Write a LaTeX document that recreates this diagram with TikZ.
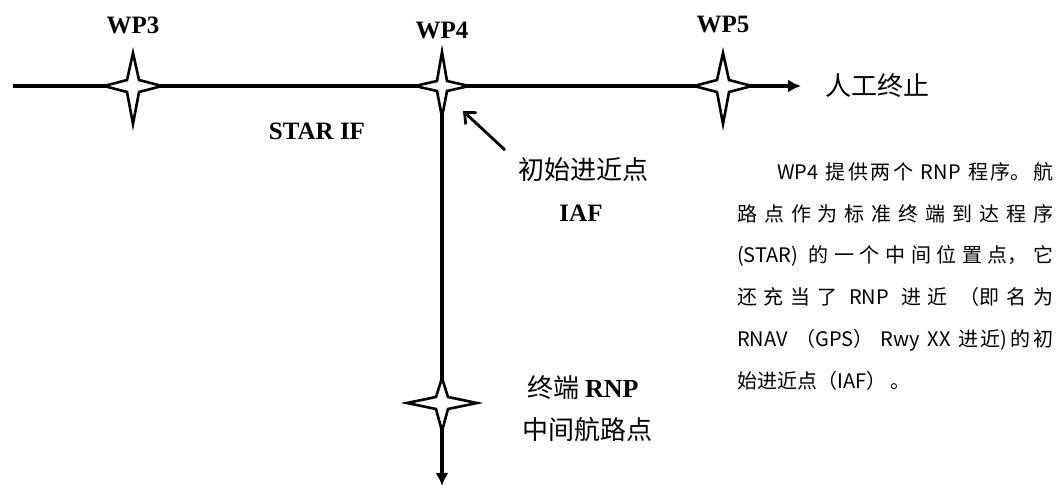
\documentclass[tikz,border=0pt]{standalone}
\usepackage{fontspec}
\setmainfont{Liberation Serif}
\newfontfamily\cjk{Noto Sans CJK SC}
\usetikzlibrary{arrows.meta}
\XeTeXlinebreaklocale "zh"
\XeTeXlinebreakskip=0pt plus 2pt
\tikzset{
  route/.style={
    % The line:
    line width=3.5pt,draw=black,
    % The tip:
    -{Latex[length=13pt,width=13pt]}
  }}
\tikzset{
  pointer/.style={line width=2.8pt,-{Straight Barb[length=9pt,width=16pt]}},
  wpname/.style={font=\fontsize{25}{25}\selectfont\bfseries},
  cjklabel/.style={font=\fontsize{26}{30}\selectfont\cjk},
  note/.style={anchor=north west,inner sep=0pt,text width=316pt,align=justify,
    font=\fontsize{20}{41.8}\selectfont\cjk},
  % a waypoint: half width / up / down / waist
  pics/wpstar/.style args={#1/#2/#3/#4}{code={
    \draw[line width=2.6pt,fill=white]
      (0,-#2) -- (#4,-#4) -- (#1,0) -- (#4,#4) -- (0,#3)
      -- (-#4,#4) -- (-#1,0) -- (-#4,-#4) -- cycle;
  }}}

\begin{document}
\begin{tikzpicture}[x=1pt,y=-1pt]
	\useasboundingbox (0,0) rectangle (1059,487);
	% The route points
	\coordinate (west) at (13,86);
	\coordinate (east) at (801,86);
	\coordinate (wp3) at (133,86);
	\coordinate (wp4) at (442,86);
	\coordinate (wp5) at (723,86);
	\coordinate (term) at (442,403);
	\coordinate (south) at (442,486);
	% Lines
	\draw[route] (west) -- (east);
	\draw[route] (wp4) -- (south);
	% Waypoints on top
	\foreach \w in {wp3,wp5}
		\pic at (\w) {wpstar=29/33/38/6};
	\pic at (wp4) {wpstar=27/34/31/5};
	\pic at (term) {wpstar=35/25/28/6};
	% Labels
	\node[wpname] (wp3l) at (133,25) {WP3};
	\node[wpname] (wp4l) at (442,30) {WP4};
	\node[wpname] (wp5l) at (723,25) {WP5};
	\node[wpname] (starif) at (317,131) {STAR IF};
	\node[cjklabel] (stop) at (877,86) {人工终止};
	\node[cjklabel] (iaf) at (583,170) {初始进近点};
	\node[wpname] (iafen) at (581,213) {IAF};
	\node[cjklabel] (rnp) at (583,388) {终端 {\rmfamily\bfseries RNP}};
	\node[cjklabel] (mid) at (587,430) {中间航路点};
	% Pointer to WP4
	\coordinate (ptail) at (505,150);
	\coordinate (phead) at (463,111);
	\draw[pointer] (ptail) -- (phead);
	% The note
	\node[note] (note) at (737,162) {\hspace*{40pt}WP4 提供两个 RNP 程序。航\linebreak
		路点作为标准终端到达程序\linebreak
		(STAR) 的一个中间位置点，它\linebreak
		还充当了 RNP 进近 （即名为\linebreak
		RNAV （GPS） Rwy XX 进近)的初\linebreak
		始进近点（IAF） 。};
\end{tikzpicture}
\end{document}
